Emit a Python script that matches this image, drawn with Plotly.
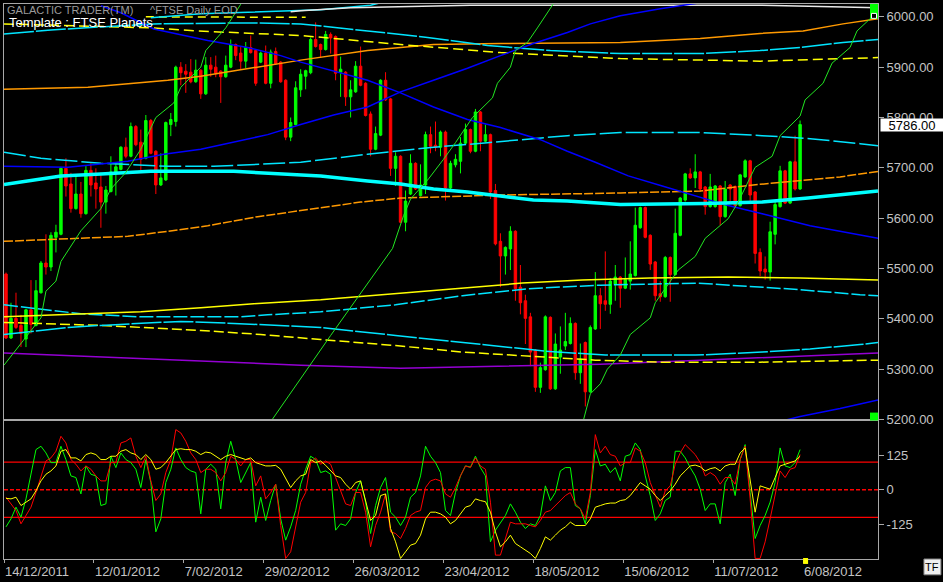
import plotly.graph_objects as go

# ---------------- tick labels ----------------
date_labels = ['14/12/2011', '12/01/2012', '7/02/2012', '29/02/2012', '26/03/2012',
               '23/04/2012', '18/05/2012', '15/06/2012', '11/07/2012', '6/08/2012']
date_label_bars = [0, 18, 36, 52, 70, 88, 106, 124, 142, 160]
price_ticks = [5200, 5300, 5400, 5500, 5600, 5700, 5800, 5900, 6000]
osc_ticks = [125, 0, -125]
osc_levels = [100, -100]
last_price = 5786.00

# ---------------- daily candles (^FTSE) ----------------
opens = [5489, 5362, 5401, 5387, 5360, 5418, 5387, 5452, 5511, 5503,
         5562, 5568, 5699, 5668, 5619, 5648, 5609, 5695, 5670, 5662,
         5632, 5653, 5691, 5697, 5741, 5723, 5782, 5751, 5719, 5794,
         5733, 5666, 5676, 5786, 5792, 5900, 5892, 5890, 5871, 5894,
         5847, 5904, 5900, 5892, 5881, 5900, 5945, 5928, 5912, 5939,
         5933, 5910, 5928, 5868, 5931, 5910, 5874, 5761, 5786, 5855,
         5882, 5889, 5955, 5945, 5935, 5965, 5961, 5890, 5890, 5841,
         5851, 5902, 5868, 5807, 5737, 5765, 5874, 5837, 5699, 5723,
         5592, 5648, 5709, 5645, 5666, 5766, 5745, 5741, 5771, 5660,
         5706, 5713, 5749, 5776, 5733, 5811, 5753, 5766, 5655, 5554,
         5525, 5539, 5574, 5463, 5436, 5404, 5338, 5264, 5299, 5403,
         5261, 5324, 5346, 5351, 5391, 5293, 5353, 5255, 5380, 5446,
         5436, 5429, 5469, 5483, 5461, 5475, 5486, 5581, 5621, 5566,
         5513, 5450, 5444, 5522, 5488, 5566, 5636, 5688, 5680, 5692,
         5662, 5623, 5623, 5664, 5603, 5666, 5663, 5625, 5682, 5714,
         5652, 5532, 5499, 5493, 5568, 5623, 5694, 5630, 5712, 5658]
highs = [5492, 5432, 5452, 5408, 5420, 5477, 5477, 5515, 5568, 5572,
         5587, 5702, 5719, 5690, 5684, 5672, 5705, 5709, 5699, 5691,
         5664, 5723, 5711, 5743, 5760, 5790, 5785, 5776, 5805, 5797,
         5735, 5729, 5792, 5809, 5903, 5910, 5906, 5916, 5915, 5896,
         5920, 5920, 5923, 5894, 5923, 5955, 5947, 5940, 5950, 5963,
         5936, 5931, 5943, 5935, 5939, 5912, 5876, 5800, 5872, 5896,
         5895, 5959, 5989, 5947, 5972, 5969, 5963, 5921, 5892, 5874,
         5912, 5941, 5870, 5812, 5782, 5876, 5890, 5839, 5731, 5725,
         5655, 5727, 5711, 5707, 5772, 5782, 5792, 5774, 5774, 5714,
         5727, 5761, 5788, 5778, 5817, 5813, 5786, 5768, 5668, 5570,
         5544, 5584, 5576, 5507, 5448, 5412, 5340, 5313, 5407, 5405,
         5371, 5385, 5412, 5403, 5393, 5351, 5355, 5387, 5493, 5461,
         5534, 5481, 5507, 5485, 5522, 5554, 5621, 5623, 5623, 5568,
         5515, 5475, 5525, 5524, 5619, 5642, 5690, 5699, 5727, 5694,
         5664, 5688, 5666, 5666, 5674, 5668, 5665, 5688, 5717, 5716,
         5654, 5540, 5524, 5593, 5633, 5704, 5696, 5714, 5764, 5794]
lows = [5360, 5360, 5380, 5344, 5344, 5371, 5385, 5450, 5488, 5495,
        5532, 5566, 5643, 5611, 5617, 5601, 5607, 5643, 5619, 5581,
        5609, 5651, 5645, 5695, 5719, 5721, 5743, 5694, 5717, 5727,
        5648, 5664, 5674, 5763, 5782, 5864, 5849, 5868, 5869, 5837,
        5845, 5881, 5880, 5829, 5879, 5898, 5914, 5896, 5898, 5927,
        5863, 5908, 5866, 5858, 5905, 5869, 5755, 5753, 5784, 5841,
        5856, 5886, 5939, 5919, 5933, 5927, 5874, 5841, 5823, 5800,
        5849, 5862, 5802, 5723, 5735, 5763, 5833, 5684, 5664, 5590,
        5574, 5646, 5656, 5643, 5648, 5729, 5733, 5723, 5635, 5658,
        5701, 5689, 5746, 5729, 5731, 5733, 5751, 5638, 5546, 5463,
        5488, 5497, 5436, 5409, 5350, 5306, 5255, 5253, 5297, 5259,
        5259, 5291, 5338, 5349, 5279, 5271, 5226, 5253, 5378, 5380,
        5416, 5410, 5436, 5422, 5459, 5458, 5484, 5579, 5560, 5497,
        5436, 5434, 5442, 5434, 5486, 5564, 5633, 5678, 5660, 5652,
        5607, 5621, 5621, 5586, 5601, 5628, 5621, 5623, 5680, 5628,
        5510, 5485, 5478, 5476, 5548, 5621, 5628, 5628, 5655, 5656]
closes = [5362, 5401, 5383, 5371, 5418, 5389, 5456, 5511, 5503, 5566,
          5572, 5699, 5664, 5619, 5648, 5609, 5695, 5666, 5658, 5632,
          5656, 5692, 5702, 5741, 5723, 5782, 5746, 5717, 5794, 5729,
          5666, 5680, 5790, 5796, 5900, 5889, 5886, 5871, 5894, 5847,
          5904, 5896, 5888, 5881, 5904, 5945, 5923, 5912, 5939, 5929,
          5868, 5928, 5868, 5930, 5907, 5871, 5761, 5790, 5859, 5886,
          5893, 5955, 5941, 5935, 5965, 5958, 5888, 5896, 5841, 5855,
          5902, 5864, 5804, 5737, 5768, 5874, 5835, 5699, 5723, 5592,
          5634, 5709, 5658, 5666, 5766, 5743, 5741, 5771, 5660, 5709,
          5717, 5749, 5776, 5733, 5811, 5753, 5766, 5652, 5549, 5525,
          5542, 5574, 5460, 5432, 5401, 5334, 5264, 5303, 5404, 5261,
          5350, 5338, 5355, 5391, 5293, 5320, 5255, 5383, 5446, 5430,
          5429, 5475, 5483, 5461, 5478, 5489, 5586, 5621, 5562, 5509,
          5446, 5444, 5522, 5488, 5570, 5640, 5688, 5680, 5692, 5658,
          5623, 5662, 5664, 5603, 5658, 5658, 5625, 5686, 5714, 5646,
          5530, 5495, 5493, 5573, 5627, 5694, 5630, 5712, 5658, 5786]

# ---------------- oscillator panel ----------------
osc_green = [-134, -105, -63, -99, -33, 50, 145, 157, 133, 98,
             98, 157, 109, 50, 44, -15, 86, 56, 50, -57,
             -51, 121, 80, 133, 109, 98, 74, 8, 109, 26,
             -152, -105, 26, 74, 151, 109, 80, 68, 62, -87,
             74, 92, 74, -69, 98, 175, 109, 26, 62, 98,
             -117, -27, -111, -39, 20, -105, -182, -134, -75, 20,
             74, 121, 109, 62, 68, 56, -146, -123, -129, -105,
             -10, 32, -45, -158, -57, 8, 44, -81, -99, -129,
             -99, -27, -10, 50, 157, 121, 98, 62, -75, -93,
             -10, 50, 86, 82, 121, 80, 50, -188, -146, -117,
             -93, -51, -81, -117, -140, -123, -129, -93, 14, -39,
             -10, 68, 80, 80, -57, -69, -123, -21, 145, 86,
             92, 62, 80, 32, 121, 127, 169, 145, 50, -21,
             -111, -87, -39, -27, 139, 139, 115, 80, 50, 2,
             -75, -51, -51, -123, 26, 56, -21, 109, 163, -10,
             -176, -129, -93, -45, 26, 151, 86, 80, 98, 145]
osc_red = [-27, -51, -75, -123, -93, -63, -10, 44, 104, 115,
           139, 193, 169, 109, 92, 68, 86, 74, 50, 32,
           32, 98, 98, 169, 175, 187, 121, 80, 121, 32,
           -39, -15, 62, 109, 217, 205, 175, 133, 109, 62,
           74, 74, 62, 32, 62, 121, 109, 86, 109, 109,
           14, 50, -33, -10, 20, -129, -248, -224, -129, -45,
           -10, 98, 115, 92, 104, 92, 44, -4, -51, -57,
           -10, -10, -81, -206, -129, -81, -15, -152, -158, -176,
           -140, -93, -81, -75, 8, 32, 38, 32, -15, -27,
           8, 50, 86, 80, 115, 86, 74, -45, -236, -236,
           -176, -117, -123, -123, -123, -129, -134, -111, -81, -75,
           -57, -39, -21, -10, -51, -69, -105, -10, 199, 133,
           157, 127, 121, 86, 98, 98, 151, 139, 98, 26,
           -21, -63, -4, 14, 92, 133, 163, 145, 127, 98,
           50, 62, 50, 20, 44, 44, 20, 109, 157, -33,
           -248, -248, -188, -105, -21, 68, 44, 74, 80, 127]
osc_yellow = [-31, -33, -27, -57, -45, -33, -4, 32, 56, 68,
              86, 139, 145, 115, 115, 104, 127, 133, 127, 109,
              109, 121, 121, 139, 145, 133, 127, 109, 127, 109,
              74, 80, 98, 121, 145, 148, 145, 145, 139, 127,
              136, 133, 121, 109, 121, 127, 121, 115, 109, 115,
              98, 92, 86, 86, 88, 74, 38, 8, 32, 50,
              56, 109, 98, 104, 88, 68, 50, 44, 20, 2,
              26, 32, -45, -111, -93, -21, -15, -140, -188, -248,
              -224, -200, -194, -164, -105, -81, -81, -87, -99, -123,
              -111, -87, -63, -57, -33, -39, -43, -81, -152, -206,
              -188, -164, -194, -206, -218, -230, -248, -212, -170, -182,
              -164, -146, -134, -117, -129, -129, -129, -105, -63, -57,
              -51, -48, -48, -39, -36, -21, 2, 26, 14, 2,
              -21, -39, -21, -4, 20, 50, 68, 86, 89, 83,
              68, 76, 80, 68, 86, 92, 92, 133, 151, 26,
              -81, 14, 8, 2, 44, 86, 92, 98, 104, 121]

# ---------------- planetary price lines (bar index, price) ----------------
green1_bar = [-0.4, 2.4, 7, 8, 10, 11, 15, 19, 21, 24, 27, 30, 33.6, 35, 39, 40, 44, 47, 48]
green1_val = [5308, 5343, 5402, 5455, 5475, 5514, 5575, 5619, 5658, 5691, 5737, 5800, 5829,
              5860, 5900, 5933, 5978, 6025, 6041]
green2_bar = [52.6, 65, 77.4, 78.4, 79.6, 81, 84.6, 87.6, 90, 93.4, 95.4, 97.4, 98.4, 101,
              102, 104.4, 106.4, 109.6, 110.6]
green2_val = [5190, 5367, 5540, 5569, 5605, 5638, 5678, 5717, 5750, 5800, 5819, 5839, 5868,
              5900, 5933, 5949, 5978, 6025, 6041]
green3_bar = [115.6, 117, 119, 120.4, 123, 125, 129, 130, 134.6, 138, 140, 144.6, 146.6, 150,
              153.4, 155, 159, 160, 163.6, 165.4, 169, 170.4, 173, 174.6]
green3_val = [5198, 5251, 5271, 5300, 5328, 5369, 5402, 5432, 5497, 5524, 5560, 5599, 5632,
              5701, 5723, 5764, 5803, 5835, 5868, 5908, 5939, 5972, 5996, 6006]
blue_a_bar = [19, 23, 29.6, 40.4, 48.4, 55, 59, 72.4, 79, 85.6, 92.4, 99, 107, 112.4, 118,
              124.6, 131.4, 138, 144.6, 151.4, 158, 161, 174.6]
blue_a_val = [6022, 6008, 5976, 5953, 5939, 5923, 5910, 5874, 5849, 5821, 5796, 5780, 5756,
              5733, 5711, 5684, 5664, 5644, 5625, 5609, 5593, 5585, 5560]
blue_b_bar = [-0.4, 12.4, 24.4, 31.6, 39, 45.6, 52.4, 59, 65.6, 72.4, 79, 85.6, 92.4, 99,
              105.6, 112.4, 117, 123, 131, 139, 143]
blue_b_val = [5703, 5701, 5713, 5727, 5737, 5752, 5766, 5786, 5805, 5821, 5851, 5874, 5898,
              5923, 5947, 5969, 5986, 6002, 6016, 6028, 6035]
blue_c_bar = [155, 159, 167, 174.6]
blue_c_val = [5196, 5206, 5222, 5239]
cyan_thick_bar = [-0.4, 7, 11, 19, 29, 45.6, 52.4, 63, 72.4, 79, 85.6, 92.4, 99, 105.6,
                  112.4, 123, 140, 151.4, 160.6, 174.6]
cyan_thick_val = [5667, 5678, 5684, 5688, 5693, 5693, 5689, 5684, 5674, 5668, 5658, 5652,
                  5644, 5636, 5634, 5627, 5629, 5632, 5640, 5654]
cyan_mid_bar = [-0.4, 7, 19, 32.4, 41.6, 49.6, 59, 72.4, 85.6, 96.4, 112.4, 123, 139, 151.4,
                161, 171, 174.6]
cyan_mid_val = [5731, 5719, 5709, 5703, 5703, 5707, 5711, 5727, 5741, 5750, 5764, 5770, 5770,
                5764, 5758, 5748, 5744]
cyan_top_bar = [-0.4, 9, 19, 29.6, 49, 59, 72.4, 84.4, 96.4, 109, 123, 139, 151, 159, 167.6, 174.6]
cyan_top_val = [5966, 5974, 5980, 5986, 5988, 5986, 5972, 5959, 5943, 5933, 5927, 5927, 5933,
                5939, 5949, 5955]
cyan_high_bar = [29, 39, 63, 73, 77]
cyan_high_val = [5998, 6006, 6014, 6023, 6033]
white_top_bar = [57, 59, 69, 93, 151, 163, 174.6]
white_top_val = [6010, 6012, 6018, 6023, 6023, 6020, 6018]
yellow_top_bar = [-0.4, 29.6, 38, 59, 79, 99, 123, 151, 174.6]
yellow_top_val = [5986, 5978, 5972, 5963, 5945, 5929, 5917, 5912, 5919]
yellow_high_bar = [28, 45, 60]
yellow_high_val = [6000, 6000, 5999]
orange_top_bar = [-0.4, 16.4, 25.6, 32.4, 39, 49, 59, 72.4, 85.6, 99, 123, 139, 151, 159.6,
                  167.6, 174.6]
orange_top_val = [5856, 5860, 5868, 5874, 5882, 5898, 5914, 5933, 5945, 5947, 5949, 5957,
                  5967, 5972, 5986, 5996]
orange_mid_bar = [-0.4, 10.4, 24.4, 32.4, 40.4, 50.4, 59, 71, 79, 99, 123, 139, 149.6, 159,
                  167, 174.6]
orange_mid_val = [5554, 5558, 5564, 5574, 5585, 5603, 5615, 5632, 5640, 5646, 5650, 5654,
                  5666, 5674, 5682, 5693]
yellow_low_bar = [-0.4, 11.6, 27, 39, 49.6, 63, 78, 91.4, 103.4, 115.4, 129, 144.6, 159, 174.6]
yellow_low_val = [5404, 5408, 5414, 5422, 5430, 5438, 5450, 5461, 5471, 5477, 5481, 5483,
                  5481, 5477]
cyan_low_bar = [-0.4, 7.6, 15, 27, 47, 52.4, 63, 78, 91.4, 104.6, 119, 138.4, 149, 159, 171, 174.6]
cyan_low_val = [5428, 5418, 5410, 5404, 5404, 5408, 5414, 5428, 5446, 5460, 5467, 5471, 5465,
                5458, 5448, 5446]
cyan_base_bar = [-0.4, 12.4, 19, 35, 45.6, 63, 78, 91.4, 108, 120, 138, 151.4, 161, 171, 174.6]
cyan_base_val = [5369, 5383, 5387, 5395, 5391, 5383, 5367, 5353, 5336, 5328, 5328, 5334,
                 5340, 5349, 5353]
yellow_base_bar = [-0.4, 19, 39, 51, 63, 78, 91.4, 104.6, 118, 131, 151, 174.6]
yellow_base_val = [5393, 5387, 5377, 5369, 5359, 5347, 5334, 5326, 5318, 5314, 5314, 5318]
purple_bar = [-0.4, 19, 39, 59, 79, 99, 119, 139, 159, 174.6]
purple_val = [5332, 5324, 5316, 5308, 5302, 5306, 5310, 5318, 5326, 5332]

# ---------------- figure geometry ----------------
W, H = 943, 582
ML, MR, MT, MB = 3, 65, 3, 18
PW, PH = W - ML - MR, H - MT - MB
OSC_FRAC = 140 / PH
X_RANGE = [-0.4, 174.6]
AXIS_GREY = '#a8a8a8'
LABEL_GREY = '#c4c4c4'
FONT = 'Liberation Sans'


def pxx(x):
    return (x - ML) / PW


def pxy(y):
    return (H - MB - y) / PH


fig = go.Figure()

fig.add_trace(go.Candlestick(
    x=list(range(len(closes))), open=opens, high=highs, low=lows, close=closes,
    increasing=dict(line=dict(color='#00ff00', width=1), fillcolor='#00ff00'),
    decreasing=dict(line=dict(color='#ff0000', width=1), fillcolor='#ff0000'),
    whiskerwidth=0, xaxis='x', yaxis='y', hoverinfo='skip'))

main_lines = [
    (purple_bar, purple_val, '#9400d3', 1.5, 'solid'),
    (yellow_base_bar, yellow_base_val, '#ffff00', 1.5, '10px,4px'),
    (cyan_base_bar, cyan_base_val, '#00e5ff', 1.5, '30px,2px'),
    (cyan_low_bar, cyan_low_val, '#00e5ff', 1.5, '14px,3px'),
    (yellow_low_bar, yellow_low_val, '#ffff00', 1.5, 'solid'),
    (orange_mid_bar, orange_mid_val, '#ff9900', 1.5, '9px,2px'),
    (orange_top_bar, orange_top_val, '#ff9900', 1.5, 'solid'),
    (yellow_top_bar, yellow_top_val, '#ffff00', 1.5, '10px,5px'),
    (yellow_high_bar, yellow_high_val, '#ffff00', 1.5, '8px,5px'),
    (cyan_top_bar, cyan_top_val, '#00e5ff', 1.5, '30px,2px'),
    (cyan_high_bar, cyan_high_val, '#00e5ff', 1.5, 'solid'),
    (white_top_bar, white_top_val, '#e8e8e8', 1.5, 'solid'),
    (cyan_mid_bar, cyan_mid_val, '#00e5ff', 1.5, '22px,4px'),
    (blue_a_bar, blue_a_val, '#0000ff', 1.5, 'solid'),
    (blue_b_bar, blue_b_val, '#0000ff', 1.5, 'solid'),
    (blue_c_bar, blue_c_val, '#0000ff', 1.5, 'solid'),
    (cyan_thick_bar, cyan_thick_val, '#00ffff', 3.5, 'solid'),
    (green1_bar, green1_val, '#22e622', 1, 'solid'),
    (green2_bar, green2_val, '#22e622', 1, 'solid'),
    (green3_bar, green3_val, '#22e622', 1, 'solid'),
]
for bx, vals, color, width, dash in main_lines:
    fig.add_trace(go.Scatter(x=bx, y=vals, mode='lines', xaxis='x', yaxis='y',
                             line=dict(color=color, width=width, dash=dash),
                             hoverinfo='skip'))

osc_x = list(range(len(osc_green)))
for vals, color in [(osc_green, '#00ff00'), (osc_red, '#ff0000'), (osc_yellow, '#ffff00')]:
    fig.add_trace(go.Scatter(x=osc_x, y=vals, mode='lines', xaxis='x2', yaxis='y2',
                             line=dict(color=color, width=1), hoverinfo='skip'))

shapes = []
for lv in osc_levels:
    shapes.append(dict(type='line', xref='paper', yref='y2', x0=0, x1=1, y0=lv, y1=lv,
                       line=dict(color='#ff0000', width=1.3), layer='below'))
shapes.append(dict(type='line', xref='paper', yref='y2', x0=0, x1=1, y0=0, y1=0,
                   line=dict(color='#ff0000', width=1.3, dash='4px,2px'), layer='below'))
# terminal decorations
shapes += [
    dict(type='rect', xref='paper', yref='paper', x0=pxx(870), x1=pxx(878), y0=pxy(18), y1=pxy(3),
         fillcolor='#00ff00', line=dict(width=0)),
    dict(type='rect', xref='paper', yref='paper', x0=pxx(871.5), x1=pxx(876.5), y0=pxy(17.5),
         y1=pxy(12.5), fillcolor='#000000', line=dict(color='#ffffff', width=1)),
    dict(type='rect', xref='paper', yref='paper', x0=pxx(870), x1=pxx(878), y0=pxy(424),
         y1=pxy(416), fillcolor='#00ff00', line=dict(width=0)),
    dict(type='rect', xref='paper', yref='paper', x0=pxx(803), x1=pxx(808), y0=pxy(569),
         y1=pxy(563), fillcolor='#ffff00', line=dict(width=0)),
    dict(type='rect', xref='paper', yref='paper', x0=pxx(924), x1=pxx(941), y0=pxy(580),
         y1=pxy(564), fillcolor='#f0f0f0', line=dict(color='#808080', width=1)),
]

annotations = [
    dict(xref='paper', yref='paper', x=pxx(5), y=pxy(9.5), xanchor='left', yanchor='middle',
         text='GALACTIC TRADER(TM)', showarrow=False, borderpad=0,
         font=dict(family=FONT, size=11, color='#9a9a9a')),
    dict(xref='paper', yref='paper', x=pxx(148), y=pxy(9.5), xanchor='left', yanchor='middle',
         text='^FTSE Daily EOD', showarrow=False, borderpad=0,
         font=dict(family=FONT, size=11, color='#9a9a9a')),
    dict(xref='paper', yref='paper', x=pxx(7), y=pxy(21.5), xanchor='left', yanchor='middle',
         text='Template : FTSE Planets', showarrow=False, borderpad=0,
         font=dict(family=FONT, size=13, color='#ffffff')),
    dict(xref='paper', yref='y', x=1, y=last_price, xanchor='left', yanchor='middle', xshift=2,
         text='%.2f' % last_price, showarrow=False, bgcolor='#ffffff', borderpad=0,
         width=62, height=12, font=dict(family=FONT, size=13, color='#000000')),
    dict(xref='paper', yref='paper', x=pxx(932.5), y=pxy(572), xanchor='center', yanchor='middle',
         text='TF', showarrow=False, font=dict(family=FONT, size=11, color='#000000')),
]

tick_font = dict(family=FONT, size=13, color=LABEL_GREY)
fig.update_layout(
    width=W, height=H,
    margin=dict(l=ML, r=MR, t=MT, b=MB, pad=0),
    paper_bgcolor='#000000', plot_bgcolor='#000000',
    showlegend=False,
    shapes=shapes, annotations=annotations,
    xaxis=dict(domain=[0, 1], anchor='y', range=X_RANGE, showgrid=False, zeroline=False,
               showticklabels=False, ticks='', showline=True, mirror=True, linecolor=AXIS_GREY,
               linewidth=1, rangeslider=dict(visible=False), fixedrange=True),
    yaxis=dict(domain=[OSC_FRAC, 1], anchor='x', side='right', range=[5198.1, 6025.5],
               showgrid=False, zeroline=False, tickvals=price_ticks,
               ticktext=['%.2f' % v for v in price_ticks], ticks='outside', ticklen=5,
               tickcolor=AXIS_GREY, tickfont=tick_font, showline=True, mirror=True,
               linecolor=AXIS_GREY, linewidth=1, fixedrange=True),
    xaxis2=dict(domain=[0, 1], anchor='y2', range=X_RANGE, showgrid=False, zeroline=False,
                tickvals=[b - 0.4 for b in date_label_bars], ticktext=date_labels,
                ticks='outside', ticklen=3, tickcolor=AXIS_GREY, tickfont=tick_font,
                ticklabelposition='outside right', showline=True, mirror=True,
                linecolor=AXIS_GREY, linewidth=1, fixedrange=True),
    yaxis2=dict(domain=[0, OSC_FRAC], anchor='x2', side='right', range=[-250, 250],
                showgrid=False, zeroline=False, tickvals=osc_ticks,
                ticktext=[str(v) for v in osc_ticks], ticks='outside', ticklen=5,
                tickcolor=AXIS_GREY, tickfont=tick_font, showline=True, mirror=True,
                linecolor=AXIS_GREY, linewidth=1, fixedrange=True),
)

fig.write_html('out.html',
               config={'displayModeBar': False, 'staticPlot': True},
               post_script="document.body.style.margin='0px';"
                           "document.body.style.padding='0px';"
                           "document.body.style.overflow='hidden';")
